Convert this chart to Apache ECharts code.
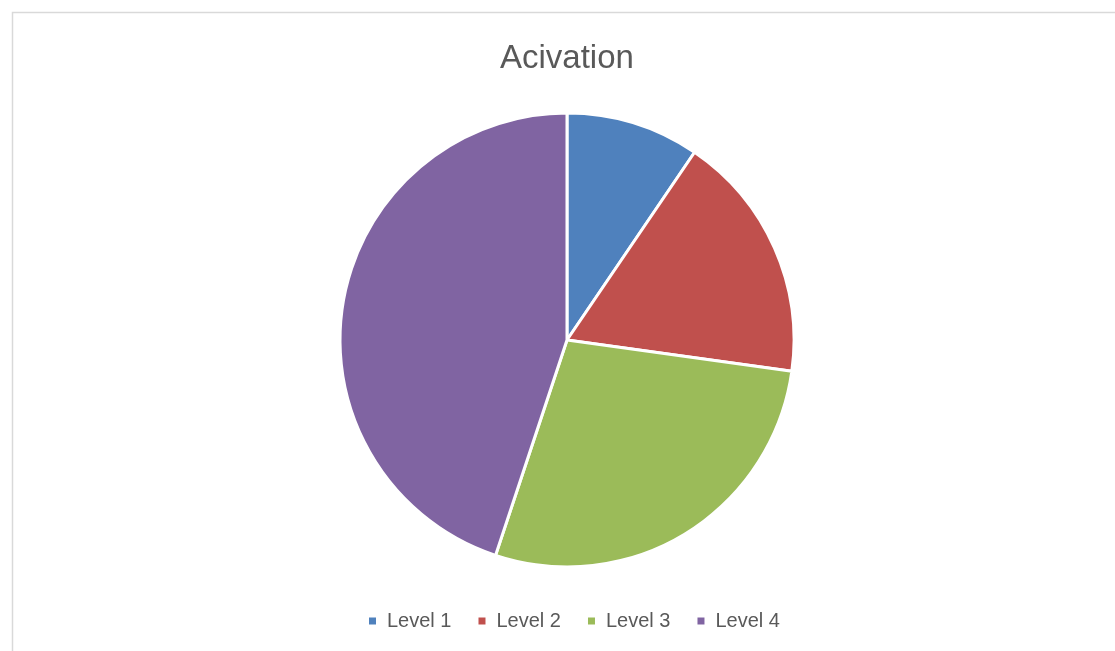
<!DOCTYPE html>
<html>
<head>
<meta charset="utf-8">
<script src="https://cdn.jsdelivr.net/npm/echarts@6/dist/echarts.min.js"></script>
<style>
html,body{margin:0;padding:0;background:#fff;}
#chart{width:1115px;height:651px;}
</style>
</head>
<body>
<div id="chart"></div>
<script>
const categories = ['Level 1', 'Level 2', 'Level 3', 'Level 4'];
const values = [9.5, 17.7, 27.9, 44.9];
const colors = ['#4F81BD', '#C0504D', '#9BBB59', '#8064A2'];

const chart = echarts.init(document.getElementById('chart'));
chart.setOption({
  animation: false,
  backgroundColor: '#fff',
  color: colors,
  graphic: [{
    type: 'rect',
    shape: {x: 12.5, y: 12.5, width: 1200, height: 800},
    style: {fill: 'none', stroke: '#d9d9d9', lineWidth: 1.5},
    silent: true
  }],
  title: {
    text: 'Acivation',
    left: 500,
    top: 42,
    padding: 0,
    textStyle: {fontFamily: 'Liberation Sans', fontSize: 33, fontWeight: 'normal', color: '#595959'}
  },
  legend: {
    data: categories,
    top: 606,
    left: 362,
    icon: 'rect',
    itemWidth: 9,
    itemHeight: 9,
    itemGap: 25,
    textStyle: {fontFamily: 'Liberation Sans', fontSize: 20, lineHeight: 20, color: '#595959', padding: [0, 0, 0, 5]}
  },
  series: [{
    type: 'pie',
    center: [567, 340],
    radius: 227,
    startAngle: 90,
    clockwise: true,
    label: {show: false},
    labelLine: {show: false},
    itemStyle: {borderColor: '#fff', borderWidth: 3},
    data: categories.map((c, i) => ({name: c, value: values[i]}))
  }]
});
</script>
</body>
</html>
